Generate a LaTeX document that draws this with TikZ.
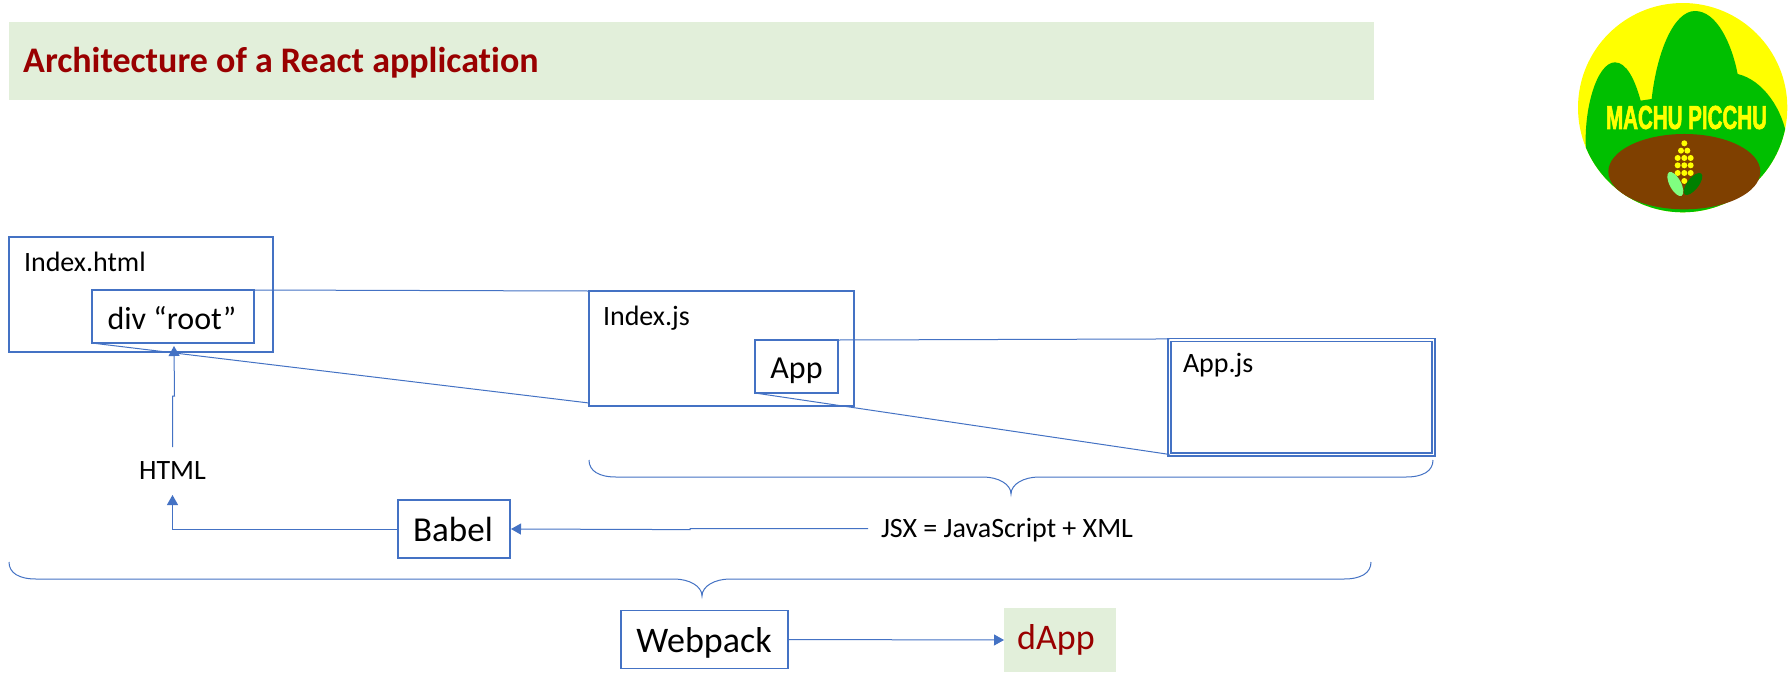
\documentclass[tikz,border=0pt]{standalone}
\usepackage{fontspec}
\usepackage{graphicx}
\setmainfont{Carlito}[Ligatures=NoCommon]
\newfontfamily\logofont[FakeBold=2.5]{Liberation Sans}
\usetikzlibrary{arrows.meta}
\definecolor{lineblue}{HTML}{4472C4}
\definecolor{bannergreen}{HTML}{E2EFDA}
\definecolor{darkred}{HTML}{990000}
\definecolor{logoyellow}{HTML}{FFFF00}
\definecolor{logogreen}{HTML}{00BF00}
\definecolor{logobrown}{HTML}{7F4000}
\tikzset{
  boxnode/.style={draw=lineblue,line width=1.8pt,inner sep=0pt,outer sep=0pt,fill=white},
  greenpanel/.style={fill=bannergreen,inner sep=0pt,outer sep=0pt},
  txt/.style={anchor=base,inner sep=0pt,outer sep=0pt,text=black},
  conn/.style={draw=lineblue,line width=1pt},
  arrowconn/.style={conn,-{Triangle[width=11pt,length=10pt]}},
  bracepath/.style={draw=lineblue,line width=1pt},
  kernel/.style={fill=logoyellow,draw=none},
}
\newcommand{\curlybrace}[5]{% left, right, mid, top, line; tip = line+17
  \draw[bracepath] (#1,#4) .. controls (#1,#4+11) and (#1+10,#5) .. (#1+27,#5)
    -- (#3-28,#5) .. controls (#3-13,#5) and (#3,#5+7) .. (#3,#5+17)
    .. controls (#3,#5+7) and (#3+13,#5) .. (#3+28,#5)
    -- (#2-27,#5) .. controls (#2-10,#5) and (#2,#4+11) .. (#2,#4);
}
\begin{document}
\begin{tikzpicture}[x=1pt,y=-1pt]
\useasboundingbox (0,0) rectangle (1792,686);
\fill[white] (0,0) rectangle (1792,686);
% banner
\node[greenpanel,minimum width=1365.5pt,minimum height=78pt] (banner) at (691.25,60.5) {};
\node[anchor=base west,inner sep=0pt,text=darkred,font=\fontsize{36}{36}\selectfont\bfseries] (title) at (23,72) {Architecture of a React application};
% logo
\begin{scope}[shift={(1570,0)},x=.3333pt,y=-.3333pt]
  \fill[logoyellow] (338,323) circle[radius=314];
  \begin{scope}
    \clip (338,323) circle[radius=314];
    \fill[logogreen] (48,450) .. controls (40,330) and (80,187) .. (135,187)
      .. controls (170,187) and (195,240) .. (212,302)
      -- (245,297) .. controls (260,160) and (310,33) .. (375,33)
      .. controls (440,33) and (485,130) .. (503,222)
      .. controls (580,240) and (640,330) .. (652,420)
      -- (700,700) -- (0,700) -- cycle;
  \end{scope}
  \fill[logobrown] (343,515) ellipse[x radius=228,y radius=113];
  \foreach \px/\py in {343/430,333/452,352/452,323/474,343/474,362/474,323/496,343/496,362/496,323/519,343/519,362/519,343/543}
    \fill[kernel] (\px,\py) circle[radius=9];
  \fill[green!50!white,rotate around={28:(316,552)}] (316,552) ellipse[x radius=17,y radius=40];
  \fill[green!50!black,rotate around={-38:(369,552)}] (369,552) ellipse[x radius=17,y radius=40];
\end{scope}
\node[inner sep=0pt,text=logoyellow] (logotext) at (1686.5,117.5) {\resizebox{161pt}{23pt}{\logofont\bfseries MACHU PICCHU}};
% boxes
\node[boxnode,minimum width=264.5pt,minimum height=115pt] (indexhtml) at (141,294.5) {};
\node[boxnode,minimum width=162.6pt,minimum height=53pt] (divroot) at (173,316.5) {};
\node[boxnode,minimum width=265pt,minimum height=115pt] (indexjs) at (721.5,348.5) {};
\node[boxnode,minimum width=83pt,minimum height=53pt] (appbox) at (796.5,366.5) {};
\node[draw=lineblue,line width=1.3pt,double,double distance=1.5pt,inner sep=0pt,outer sep=0pt,minimum width=264pt,minimum height=114.5pt] (appjs) at (1301.5,397.2) {};
\node[boxnode,minimum width=112pt,minimum height=58pt] (babel) at (454,529) {};
\node[boxnode,minimum width=167pt,minimum height=58pt] (webpack) at (704.5,639.5) {};
\node[greenpanel,minimum width=112pt,minimum height=64pt] (dapppanel) at (1060,640) {};
% labels
\node[txt,font=\fontsize{28}{28}\selectfont,anchor=base west] (lindexhtml) at (24,271) {Index.html};
\node[txt,font=\fontsize{32}{32}\selectfont] (ldiv) at (172,329) {div “root”};
\node[txt,font=\fontsize{28}{28}\selectfont,anchor=base west] (lindexjs) at (603,325) {Index.js};
\node[txt,font=\fontsize{32}{32}\selectfont] (lapp) at (796.5,378) {App};
\node[txt,font=\fontsize{28}{28}\selectfont,anchor=base west] (lappjs) at (1183,372) {App.js};
\node[txt,font=\fontsize{28}{28}\selectfont] (html) at (172.5,479) {HTML};
\node[txt,font=\fontsize{35}{35}\selectfont] (lbabel) at (453,541) {Babel};
\node[txt,font=\fontsize{28}{28}\selectfont,anchor=base west] (jsx) at (881,537) {JSX = JavaScript + XML};
\node[txt,font=\fontsize{36}{36}\selectfont] (lwebpack) at (704,652) {Webpack};
\node[txt,font=\fontsize{36}{36}\selectfont,text=darkred] (ldapp) at (1056,649) {dApp};
% connectors
\draw[conn] (divroot.north east) -- (indexjs.north west);
\draw[conn] (divroot.south west) -- ([yshift=3pt]indexjs.south west);
\draw[conn] (appbox.north east) -- ([yshift=1pt]appjs.north west);
\draw[conn] (appbox.south west) -- (appjs.south west);
\draw[arrowconn] ([yshift=14pt]html.north) -- ++(0,-51) -- ++(2,0) -- ([xshift=1pt,yshift=-3pt]divroot.south);
\draw[arrowconn] (babel.west) -| ([yshift=-16pt]html.south);
\draw[arrowconn] ([xshift=-13pt,yshift=1pt]jsx.west) -- ++(-178,0) -- ++(0,1) -- ([xshift=1pt]babel.east);
\draw[arrowconn] (webpack.east) -- (dapppanel.west);
% braces
\curlybrace{589}{1433}{1011}{460}{477}
\curlybrace{9}{1371}{702}{562}{579}
\end{tikzpicture}
\end{document}
